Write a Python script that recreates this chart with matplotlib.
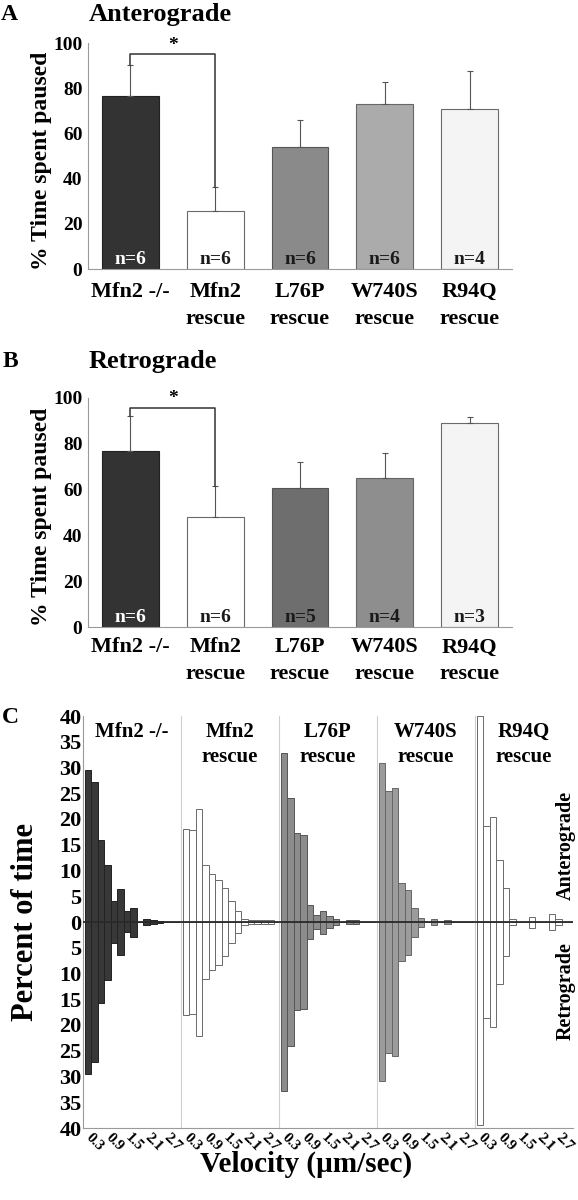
import matplotlib.pyplot as plt
import numpy as np

plt.rcParams['font.family'] = ['Liberation Serif', 'DejaVu Serif']
plt.rcParams['font.weight'] = 'bold'
plt.rcParams['axes.labelweight'] = 'bold'

W, H = 578, 1200

# Data
groups = ['Mfn2 -/-', 'Mfn2\nrescue', 'L76P\nrescue', 'W740S\nrescue', 'R94Q\nrescue']

# A - anterograde, % time paused
ant_mean = [76.5, 25.7, 53.8, 73.2, 71.0]
ant_err = [13.6, 10.6, 12.0, 9.7, 16.4]
ant_n = ['n=6', 'n=6', 'n=6', 'n=6', 'n=4']

# B - retrograde, % time paused
ret_mean = [77.0, 47.9, 60.6, 65.0, 89.2]
ret_err = [15.3, 13.7, 11.4, 11.2, 2.7]
ret_n = ['n=6', 'n=6', 'n=5', 'n=4', 'n=3']

# C - velocity histograms (percent of time per 0.2 um/s bin)
vel_bins = [0.1, 0.3, 0.5, 0.7, 0.9, 1.1, 1.3, 1.5, 1.7, 1.9, 2.1, 2.3, 2.5, 2.7, 2.9]
vel_ticks = [0.3, 0.9, 1.5, 2.1, 2.7]

ko_ant = [29.6, 27.2, 15.9, 11.1, 4.0, 6.4, 2.2, 2.8, 0, 0.5, 0.3, 0.2, 0, 0, 0]
ko_ret = [29.5, 27.1, 15.7, 11.3, 4.1, 6.5, 2.0, 3.0, 0, 0.5, 0.3, 0.2, 0, 0, 0]
mfn2_ant = [18.0, 17.8, 22.0, 11.0, 9.4, 8.2, 6.6, 4.1, 2.1, 0.6, 0.4, 0.4, 0.4, 0.4, 0]
mfn2_ret = [18.0, 17.9, 22.1, 11.0, 9.4, 8.3, 6.6, 4.1, 2.1, 0.6, 0.4, 0.4, 0.4, 0.4, 0]
l76p_ant = [32.9, 24.1, 17.2, 16.9, 3.3, 1.3, 2.1, 1.2, 0.6, 0, 0.3, 0.4, 0, 0, 0]
l76p_ret = [32.9, 24.0, 17.1, 16.9, 3.3, 1.3, 2.3, 1.2, 0.6, 0, 0.3, 0.4, 0, 0, 0]
w740s_ant = [30.8, 25.5, 26.0, 7.5, 6.2, 2.8, 0.8, 0, 0.6, 0, 0.3, 0, 0, 0, 0]
w740s_ret = [30.9, 25.5, 26.0, 7.5, 6.4, 3.0, 1.0, 0, 0.6, 0, 0.3, 0, 0, 0, 0]
r94q_ant = [40.0, 18.6, 20.4, 12.1, 6.6, 0.6, 0, 0, 1.0, 0, 0, 1.6, 0.6, 0, 0]
r94q_ret = [39.5, 18.6, 20.4, 12.1, 6.6, 0.6, 0, 0, 1.2, 0, 0, 1.6, 0.6, 0, 0]

hist_ant = [ko_ant, mfn2_ant, l76p_ant, w740s_ant, r94q_ant]
hist_ret = [ko_ret, mfn2_ret, l76p_ret, w740s_ret, r94q_ret]

# styles
cols_a = ['#333333', 'white', '#8a8a8a', '#ababab', '#f4f4f4']
cols_b = ['#333333', 'white', '#6e6e6e', '#8e8e8e', '#f4f4f4']
cols_c = ['#383838', 'white', '#8c8c8c', '#9c9c9c', 'white']
edges = ['#222222', '#6a6a6a', '#555555', '#666666', '#6a6a6a']
n_cols = ['white', '#1a1a1a', '#1a1a1a', '#1a1a1a', '#1a1a1a']

fig = plt.figure(figsize=(W / 100, H / 100), dpi=100)


def px_axes(left, top, right, bottom):
    return fig.add_axes([left / W, 1 - bottom / H, (right - left) / W, (bottom - top) / H])


def bar_panel(ax, means, errs, ns, colors, bracket_y, pad):
    x = np.arange(len(means))
    ax.bar(x, means, width=0.67, color=colors, edgecolor=edges, linewidth=0.8, zorder=2)
    ax.errorbar(x, means, yerr=[np.zeros(len(errs)), errs], fmt='none', ecolor='#555555',
                elinewidth=0.8, capsize=2, capthick=0.8, zorder=3)
    for i in range(len(means)):
        ax.text(x[i], 4, ns[i], ha='center', va='center', fontsize=14, color=n_cols[i], zorder=4)
    ax.plot([0, 0, 1, 1], [means[0] + errs[0], bracket_y, bracket_y, means[1] + errs[1]],
            color='#333333', lw=1.1, zorder=3)
    ax.text(0.5, bracket_y + 0.3, '*', ha='center', va='bottom', fontsize=14)
    ax.set_xlim(-0.5, 4.5)
    ax.set_ylim(0, 100)
    ax.set_yticks([0, 20, 40, 60, 80, 100])
    ax.set_xticks(x)
    ax.set_xticklabels(groups, fontsize=16, linespacing=1.45)
    ax.tick_params(axis='x', length=0, pad=pad)
    ax.tick_params(axis='y', length=0, pad=4, labelsize=14)
    for s in ['top', 'right']:
        ax.spines[s].set_visible(False)
    for s in ['left', 'bottom']:
        ax.spines[s].set_color('#9a9a9a')
    ax.set_ylabel('% Time spent paused', fontsize=17)
    ax.yaxis.set_label_coords(-0.085, 0.48)


# Panel A
axA = px_axes(88, 43, 512, 269)
bar_panel(axA, ant_mean, ant_err, ant_n, cols_a, 95, 9.5)
fig.text(9 / W, 1 - 20 / H, 'A', fontsize=17, ha='center', va='baseline')
fig.text(89 / W, 1 - 21 / H, 'Anterograde', fontsize=19, ha='left', va='baseline')

# Panel B
axB = px_axes(88, 398, 512, 627)
bar_panel(axB, ret_mean, ret_err, ret_n, cols_b, 95.6, 7.5)
fig.text(10 / W, 1 - 367 / H, 'B', fontsize=17, ha='center', va='baseline')
fig.text(89 / W, 1 - 368 / H, 'Retrograde', fontsize=19, ha='left', va='baseline')

# Panel C
c_left = [83, 181, 279, 377, 475]
for i in range(5):
    ax = px_axes(c_left[i], 716, c_left[i] + 98, 1128)
    ax.bar(vel_bins, hist_ant[i], width=0.2, color=cols_c[i], edgecolor=edges[i], linewidth=0.7, zorder=2)
    ax.bar(vel_bins, -np.array(hist_ret[i]), width=0.2, color=cols_c[i], edgecolor=edges[i],
           linewidth=0.7, zorder=2)
    ax.axhline(0, color='#2a2a2a', lw=1.3, zorder=3)
    ax.set_xlim(-0.05, 2.95)
    ax.set_ylim(-40, 40)
    ax.set_xticks(vel_ticks)
    ax.set_xticklabels([str(v) for v in vel_ticks], rotation=-45, ha='center', fontsize=11)
    ax.tick_params(axis='x', length=0, pad=2)
    yt = np.arange(-40, 41, 5)
    ax.set_yticks(yt)
    for s in ['top', 'right']:
        ax.spines[s].set_visible(False)
    ax.spines['bottom'].set_color('#9a9a9a')
    if i == 0:
        ax.spines['left'].set_color('#9a9a9a')
        ax.set_yticklabels([str(abs(t)) for t in yt], fontsize=16)
        ax.tick_params(axis='y', length=0, pad=1)
        ax.set_ylabel('Percent of time', fontsize=22)
        ax.yaxis.set_label_coords(-0.44, 0.5)
    else:
        ax.spines['left'].set_color('#cfcfcf')
        ax.set_yticklabels([])
        ax.tick_params(axis='y', length=0)
    ax.text(0.5, 0.985, groups[i], transform=ax.transAxes, ha='center', va='top',
            fontsize=15, linespacing=1.3)

fig.text(10 / W, 1 - 723 / H, 'C', fontsize=17, ha='center', va='baseline')
fig.text(306 / W, 1 - 1172 / H, 'Velocity (\u00b5m/sec)', fontsize=21, ha='center', va='baseline')
fig.text(566 / W, 1 - 845 / H, 'Anterograde', fontsize=14.5, rotation=90, ha='center', va='center')
fig.text(566 / W, 1 - 991 / H, 'Retrograde', fontsize=14.5, rotation=90, ha='center', va='center')

fig.savefig('out.png', dpi=100)
